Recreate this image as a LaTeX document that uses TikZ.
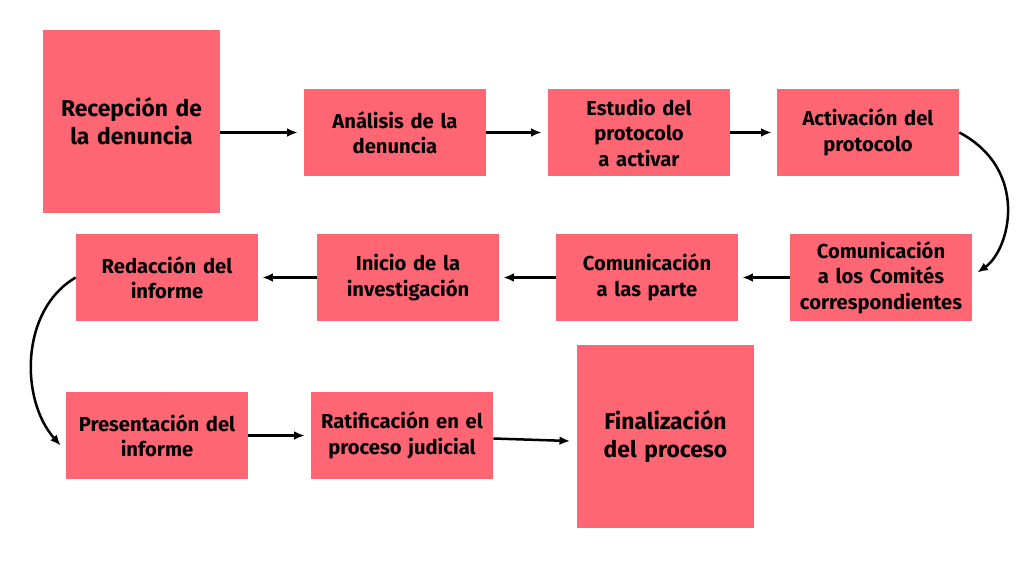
\documentclass[tikz,border=0pt]{standalone}
\usepackage{fontspec}
\setmainfont{Fira Sans}
\usetikzlibrary{arrows.meta}
\definecolor{boxPink}{HTML}{FF6673}
\begin{document}
\begin{tikzpicture}
[x=0.02cm,y=-0.02cm,
 lineDecorate/.style={-{Latex[length=6pt,width=5pt]},line width=0.5mm},
 nodeDecorate/.style={shape=rectangle,fill=boxPink,inner sep=0pt,align=center,
   text width=170*0.02cm,font=\fontsize{11.5}{14.5}\selectfont\bfseries},
 bigDecorate/.style={nodeDecorate,font=\fontsize{13}{16}\selectfont\bfseries}]

 \useasboundingbox (0,0) rectangle (1024,565);

 \node (A) at (131.5,121.5) [bigDecorate, minimum width=177*0.02cm, minimum height=183*0.02cm] {Recepción de\\la denuncia};
 \node (B) at (395,132.5) [nodeDecorate, minimum width=182*0.02cm, minimum height=87*0.02cm] {Análisis de la\\denuncia};
 \node (C) at (639,132.5) [nodeDecorate, minimum width=182*0.02cm, minimum height=87*0.02cm] {Estudio del\\protocolo a activar};
 \node (D) at (868,132.5) [nodeDecorate, minimum width=182*0.02cm, minimum height=87*0.02cm] {Activación del\\protocolo};
 \node (E) at (881,277.5) [nodeDecorate, minimum width=182*0.02cm, minimum height=87*0.02cm] {Comunicación\\a los Comités\\correspondientes};
 \node (F) at (647,277.5) [nodeDecorate, minimum width=182*0.02cm, minimum height=87*0.02cm] {Comunicación\\a las parte};
 \node (G) at (408,277.5) [nodeDecorate, minimum width=182*0.02cm, minimum height=87*0.02cm] {Inicio de la\\investigación};
 \node (H) at (167,277.5) [nodeDecorate, minimum width=182*0.02cm, minimum height=87*0.02cm] {Redacción del\\informe};
 \node (I) at (157,435.5) [nodeDecorate, minimum width=182*0.02cm, minimum height=87*0.02cm] {Presentación del\\informe};
 \node (J) at (402,435.5) [nodeDecorate, minimum width=182*0.02cm, minimum height=87*0.02cm] {Ratificación en el\\proceso judicial};
 \node (K) at (665.5,436.5) [bigDecorate, minimum width=177*0.02cm, minimum height=183*0.02cm] {Finalización\\del proceso};

 \coordinate (AB) at (298,131);
 \coordinate (KA) at (570,441);

 \path
 (A.east |- B) edge[lineDecorate] ([xshift=-6*0.02cm]B.west)
 (B) edge[lineDecorate] ([xshift=-6*0.02cm]C.west)
 (C) edge[lineDecorate] ([xshift=-5*0.02cm]D.west)
 (E) edge[lineDecorate] ([xshift=4*0.02cm]F.east)
 (F) edge[lineDecorate] ([xshift=4*0.02cm]G.east)
 (G) edge[lineDecorate] ([xshift=4*0.02cm]H.east)
 (I) edge[lineDecorate] ([xshift=-6*0.02cm]J.west)
 (J) edge[lineDecorate] (KA);
 \draw[lineDecorate] (D.east) .. controls (1030,170) and (1010,250) .. ([xshift=5*0.02cm,yshift=5*0.02cm]E.east);
 \draw[lineDecorate] (H.west) .. controls (20,310) and (20,400) .. ([xshift=-5*0.02cm,yshift=-10*0.02cm]I.west);
\end{tikzpicture}
\end{document}
